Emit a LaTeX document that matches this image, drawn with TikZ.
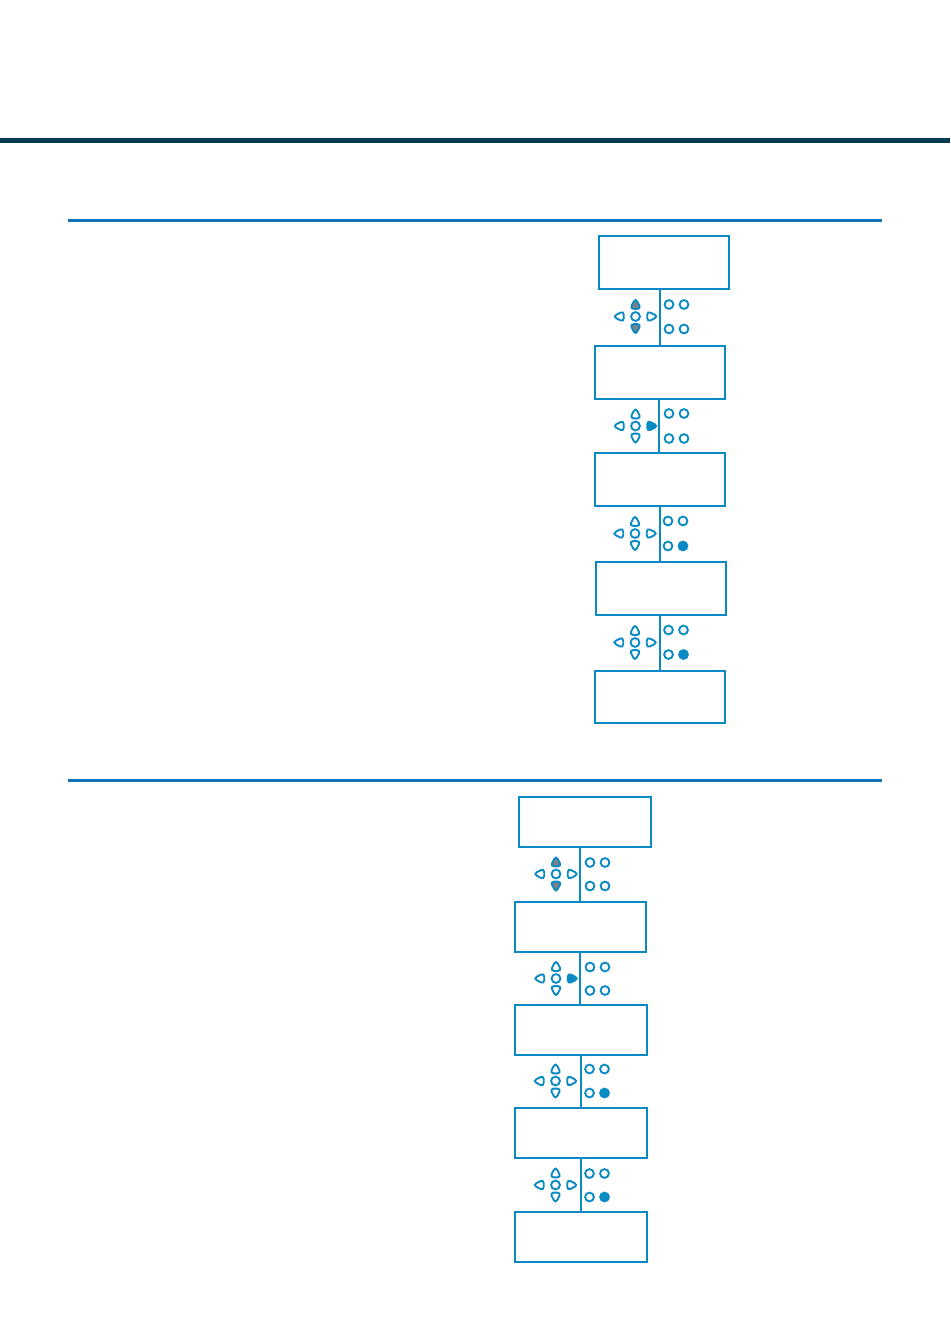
\documentclass[tikz,border=0pt]{standalone}
\usetikzlibrary{calc}
\definecolor{keyblue}{HTML}{0A8AC4}
\definecolor{keygray}{HTML}{808080}
\definecolor{rule}{HTML}{0F75B8}
\definecolor{topbar}{HTML}{003B4E}
\tikzset{
  x=0.75pt,y=-0.75pt,
  screen/.style={draw=keyblue,line width=1.5pt,fill=white,inner sep=0pt,outer sep=0pt,minimum width=#1*0.75pt},
  screen/.default=130,
  thinscreen/.style={draw=keyblue,line width=1.25pt,fill=white,inner sep=0pt,outer sep=0pt,minimum width=#1*0.75pt},
  link/.style={draw=keyblue,line width=1.5pt},
  thinlink/.style={draw=keyblue,line width=1.25pt},
  keyoff/.style={draw=keyblue,line width=1.4pt,fill=white},
  keygrey/.style={draw=keyblue,line width=1.4pt,fill=keygray},
  keyfull/.style={draw=keyblue,line width=1.4pt,fill=keyblue},
  pics/tri/.style={code={\path[pic actions,rounded corners=2.8pt] (-5.6,4.4) -- (5.6,4.4) -- (0,-6.4) -- cycle;}},
}
% cx, cy, first led x, top led y, bottom led y, up/down style, right style, lit led style
\newcommand{\keypad}[8]{%
  \path (#1,#2-12) pic[#6] {tri};
  \path (#1,#2+12) pic[#6,rotate=180] {tri};
  \path (#1-16.2,#2) pic[keyoff,rotate=90] {tri};
  \path (#1+16.2,#2) pic[#7,rotate=-90] {tri};
  \path[keyoff] (#1,#2) circle[radius=4.4];
  \path[keyoff] (#3,#4) circle[radius=4.4];
  \path[keyoff] (#3+15,#4) circle[radius=4.4];
  \path[keyoff] (#3,#5) circle[radius=4.4];
  \path[#8] (#3+15,#5) circle[radius=4.4];
}
\begin{document}
\begin{tikzpicture}
\useasboundingbox (0,0) rectangle (950,1344);
\fill[white] (0,0) rectangle (950,1344);
\fill[topbar] (0,138.5) rectangle (950,143.5);
\fill[rule] (68,219) rectangle (882,222);
\fill[rule] (68,779) rectangle (882,782);

% upper column
\node[screen=130.5,minimum height=39.75pt] (a1) at (664,262.5) {};
\node[screen=130.5,minimum height=39.75pt] (a2) at (660,372.5) {};
\node[screen=130.5,minimum height=39.75pt] (a3) at (660,479.5) {};
\node[screen=130.5,minimum height=39.75pt] (a4) at (661,588) {};
\node[thinscreen=130,minimum height=39pt] (a5) at (660.2,697) {};
\coordinate (ca1) at (660,0);
\coordinate (ca2) at (659,0);
\draw[link] (ca1 |- a1.south) -- (ca1 |- a2.north);
\draw[link] (ca2 |- a2.south) -- (ca2 |- a3.north);
\draw[link] (ca1 |- a3.south) -- (ca1 |- a4.north);
\draw[link] (ca1 |- a4.south) -- (ca1 |- a5.north);
\keypad{635.5}{316.5}{669}{304.5}{329}{keygrey}{keyoff}{keyoff}
\keypad{635.5}{426}{669}{413.5}{438.5}{keyoff}{keyfull}{keyoff}
\keypad{635}{533.5}{668}{521}{546}{keyoff}{keyoff}{keyfull}
\keypad{635}{642.5}{668.5}{630}{654.5}{keyoff}{keyoff}{keyfull}

% lower column
\node[screen=132,minimum height=37.5pt] (b1) at (585,822) {};
\node[screen=131,minimum height=37.5pt] (b2) at (580.5,927) {};
\node[screen=132,minimum height=37.5pt] (b3) at (581,1030) {};
\node[screen=132,minimum height=37.5pt] (b4) at (581,1133) {};
\node[thinscreen=132,minimum height=37.5pt] (b5) at (581.2,1237) {};
\coordinate (cb1) at (580,0);
\coordinate (cb2) at (579.8,0);
\coordinate (cb3) at (581,0);
\draw[link] (cb1 |- b1.south) -- (cb1 |- b2.north);
\draw[thinlink] (cb2 |- b2.south) -- (cb2 |- b3.north);
\draw[link] (cb3 |- b3.south) -- (cb3 |- b4.north);
\draw[link] (cb3 |- b4.south) -- (cb3 |- b5.north);
\keypad{556}{874}{590}{862.5}{886}{keygrey}{keyoff}{keyoff}
\keypad{556}{978.5}{590}{967}{990.5}{keyoff}{keyfull}{keyoff}
\keypad{555.5}{1081}{589.5}{1069}{1093}{keyoff}{keyoff}{keyfull}
\keypad{555.5}{1185}{589.5}{1173.5}{1197}{keyoff}{keyoff}{keyfull}
\end{tikzpicture}
\end{document}
